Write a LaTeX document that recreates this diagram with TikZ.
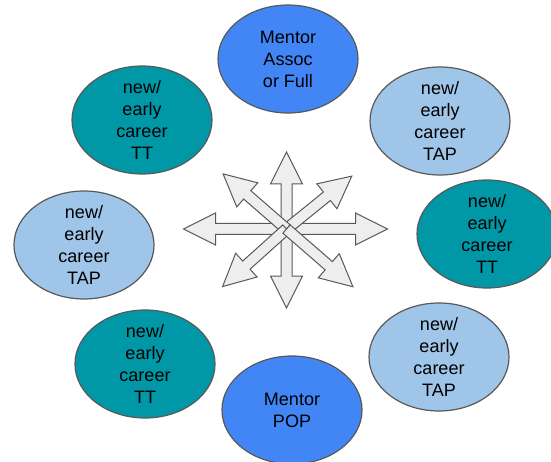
\documentclass[tikz,border=0pt]{standalone}
\usepackage{fontspec}
\setmainfont{Liberation Sans}
\usetikzlibrary{shapes.geometric}
\definecolor{mentorblue}{HTML}{4285F4}
\definecolor{ttteal}{HTML}{0097A7}
\definecolor{taplight}{HTML}{9FC5E8}
\definecolor{rimgray}{HTML}{595959}
\definecolor{arrowfill}{HTML}{EEEEEE}
\tikzset{
    bubble/.style={ellipse, draw=rimgray, line width=1.2pt, minimum width=140pt, minimum height=108pt,
        inner xsep=0pt, inner ysep=-10pt, align=center, font=\fontsize{18}{22}\selectfont},
    mentor/.style={bubble, fill=mentorblue},
    tt/.style={bubble, fill=ttteal},
    tap/.style={bubble, fill=taplight},
    blockarrow/.style={draw=rimgray, fill=arrowfill, line width=1pt, line join=miter}
}
\begin{document}
\begin{tikzpicture}[x=1pt,y=-1pt]
            \useasboundingbox (0,0) rectangle (551,462);
            \clip (0,0) rectangle (551,462);
            \node[mentor] (assoc) at (288,59) {Mentor\\Assoc\\or Full};
            \node[tt] (tt1) at (142,120) {new/\\early\\career\\TT};
            \node[tap] (tap1) at (440,121) {new/\\early\\career\\TAP};
            \node[tt] (tt2) at (487,234) {new/\\early\\career\\TT};
            \node[tap] (tap2) at (84,245) {new/\\early\\career\\TAP};
            \node[tt] (tt3) at (145,364) {new/\\early\\career\\TT};
            \node[mentor] (pop) at (292,410) {Mentor\\POP};
            \node[tap] (tap3) at (439,357) {new/\\early\\career\\TAP};
            \coordinate (hub) at (286.5,229);
            \foreach \ang/\len in {0/101, 90/77, 180/103, 270/79, 39/84, 139/84, 222/86, 319/88}
                \draw[blockarrow, shift={(hub)}, rotate=\ang] (0,-5.5) -- (\len-32,-5.5) -- (\len-32,-16)
                    -- (\len,0) -- (\len-32,16) -- (\len-32,5.5) -- (0,5.5) -- cycle;
        \end{tikzpicture}
\end{document}
